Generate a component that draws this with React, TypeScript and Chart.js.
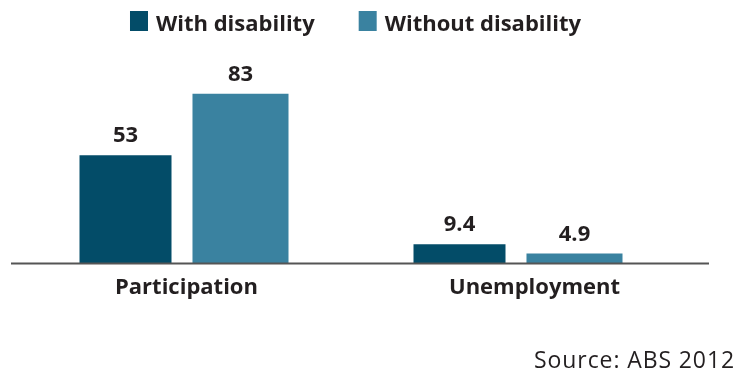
import React, { useEffect, useRef } from "react";
import { Chart, registerables } from "chart.js";

Chart.register(...registerables);

const categories = ["Participation", "Unemployment"];
const withDisability = [53, 9.4];
const withoutDisability = [83, 4.9];
const seriesLabels = ["With disability", "Without disability"];
const sourceText = "Source: ABS 2012";

const FONT = "'Open Sans', sans-serif";
const TEXT = "#231f20";

const extras = {
  id: "extras",
  afterDatasetsDraw(chart: any) {
    const ctx = chart.ctx;
    const area = chart.chartArea;
    ctx.save();
    // baseline
    ctx.strokeStyle = "#555";
    ctx.lineWidth = 2;
    ctx.beginPath();
    ctx.moveTo(11, area.bottom);
    ctx.lineTo(709, area.bottom);
    ctx.stroke();
    // value labels
    ctx.fillStyle = TEXT;
    ctx.font = `bold 22px ${FONT}`;
    ctx.textAlign = "center";
    ctx.textBaseline = "alphabetic";
    chart.data.datasets.forEach((ds: any, i: number) => {
      const meta = chart.getDatasetMeta(i);
      meta.data.forEach((bar: any, j: number) => {
        ctx.fillText(String(ds.data[j]), bar.x, bar.y - 13);
      });
    });
    // legend
    ctx.font = `bold 22px ${FONT}`;
    ctx.textAlign = "left";
    const boxW = 18, boxH = 20, gap = 8, itemGap = 44;
    const widths = chart.data.datasets.map((ds: any) => ctx.measureText(ds.label).width);
    const total = widths.reduce((a: number, w: number) => a + boxW + gap + w, 0) + itemGap * (widths.length - 1);
    let x = 355.5 - total / 2;
    chart.data.datasets.forEach((ds: any, i: number) => {
      ctx.fillStyle = ds.backgroundColor;
      ctx.fillRect(x, 11, boxW, boxH);
      x += boxW + gap;
      ctx.fillStyle = TEXT;
      ctx.fillText(ds.label, x, 31);
      x += widths[i] + itemGap;
    });
    // source
    ctx.font = `23px ${FONT}`;
    (ctx as any).letterSpacing = "0.9px";
    ctx.textAlign = "right";
    ctx.fillStyle = TEXT;
    ctx.fillText(sourceText, 735, 368);
    ctx.restore();
  },
};

export default function App() {
  const ref = useRef<HTMLCanvasElement>(null);
  useEffect(() => {
    const chart = new Chart(ref.current!, {
      type: "bar",
      data: {
        labels: categories,
        datasets: [
          {
            label: seriesLabels[0],
            data: withDisability,
            backgroundColor: "#034c68",
            categoryPercentage: 0.6886,
            barPercentage: 0.8,
          },
          {
            label: seriesLabels[1],
            data: withoutDisability,
            backgroundColor: "#3a82a0",
            categoryPercentage: 0.6886,
            barPercentage: 0.835,
          },
        ],
      },
      options: {
        animation: false,
        responsive: false,
        layout: { padding: { left: 16, right: 54, top: 59, bottom: 59 } },
        plugins: {
          legend: { display: false },
          tooltip: { enabled: false },
        },
        scales: {
          x: {
            type: "category",
            grid: { display: false, drawTicks: false },
            border: { display: false },
            ticks: {
              color: TEXT,
              padding: 11,
              align: "start",
              labelOffset: -68,
              autoSkip: false,
              maxRotation: 0,
              font: { family: FONT, size: 22, weight: "bold" },
            },
          },
          y: { display: false, min: 0, max: 100 },
        },
      },
      plugins: [extras],
    });
    return () => chart.destroy();
  }, []);
  return (
    <div style={{ position: "fixed", left: 0, top: 0, width: 738, height: 371, background: "#fff" }}>
      <canvas ref={ref} width={738} height={371} style={{ width: 738, height: 371 }} />
    </div>
  );
}
